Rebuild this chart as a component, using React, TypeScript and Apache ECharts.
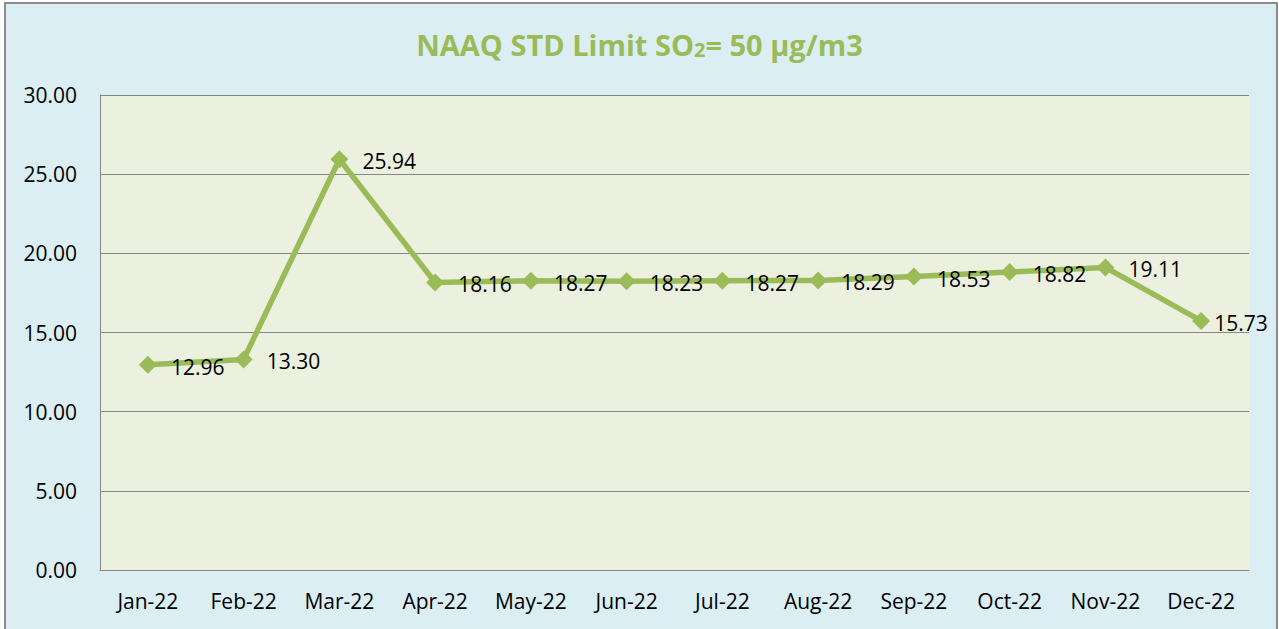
import React, { useEffect, useRef } from "react";
import * as echarts from "echarts";

const categories = ["Jan-22", "Feb-22", "Mar-22", "Apr-22", "May-22", "Jun-22", "Jul-22", "Aug-22", "Sep-22", "Oct-22", "Nov-22", "Dec-22"];
const so2Values = [12.96, 13.3, 25.94, 18.16, 18.27, 18.23, 18.27, 18.29, 18.53, 18.82, 19.11, 15.73];

const FONT = "'Open Sans', 'Noto Sans', sans-serif";
const GREEN = "#9BBB59";

export default function App() {
  const ref = useRef<HTMLDivElement>(null);
  useEffect(() => {
    document.body.style.margin = "0";
    const chart = echarts.init(ref.current!, null, { renderer: "svg" });
    chart.setOption({
      animation: false,
      backgroundColor: "transparent",
      title: {
        text: "{m|NAAQ STD Limit SO}{s|2}{m|= 50 µg/m3}",
        left: "center",
        top: 25,
        textStyle: {
          rich: {
            m: { fontFamily: FONT, fontWeight: "bold", fontSize: 29, color: GREEN },
            s: { fontFamily: FONT, fontWeight: "bold", fontSize: 20, color: GREEN, verticalAlign: "bottom", padding: [6, 0, 0, 0] },
          },
        },
      },
      grid: {
        left: 100,
        right: 30,
        top: 95,
        bottom: 59,
        show: true,
        backgroundColor: "#EBF1DE",
        borderWidth: 0,
      },
      xAxis: {
        type: "category",
        data: categories,
        boundaryGap: true,
        axisLine: { show: true, lineStyle: { color: "#868686", width: 1 } },
        axisTick: { show: false },
        axisLabel: { color: "#000", fontFamily: FONT, fontSize: 21, margin: 20, interval: 0 },
      },
      yAxis: {
        type: "value",
        min: 0,
        max: 30,
        interval: 5,
        axisLine: { show: true, lineStyle: { color: "#868686", width: 1 } },
        axisTick: { show: false },
        splitLine: { show: true, lineStyle: { color: "#868686", width: 1 } },
        axisLabel: {
          color: "#000",
          fontFamily: FONT,
          fontSize: 21,
          margin: 23,
          formatter: (v: number) => v.toFixed(2),
        },
      },
      series: [
        {
          type: "line",
          data: so2Values.map((v, i) =>
            i === so2Values.length - 1 ? { value: v, label: { distance: 4 } } : v
          ),
          symbol: "diamond",
          symbolSize: 18,
          lineStyle: { color: GREEN, width: 5.5 },
          itemStyle: { color: GREEN },
          label: {
            show: true,
            position: "right",
            distance: 14,
            offset: [0, 2],
            color: "#000",
            fontFamily: FONT,
            fontSize: 21,
            formatter: (p: any) => Number(p.value).toFixed(2),
          },
        },
      ],
    });
    return () => chart.dispose();
  }, []);
  return (
    <div style={{ position: "fixed", left: 0, top: 0, width: 1279, height: 629, background: "#fff", overflow: "hidden" }}>
      <div
        style={{
          position: "absolute",
          left: 4,
          top: 2,
          width: 1270,
          height: 650,
          border: "2px solid #8c8c8c",
          background: "#DAEEF3",
        }}
      />
      <div ref={ref} style={{ position: "absolute", left: 0, top: 0, width: 1279, height: 629 }} />
    </div>
  );
}
